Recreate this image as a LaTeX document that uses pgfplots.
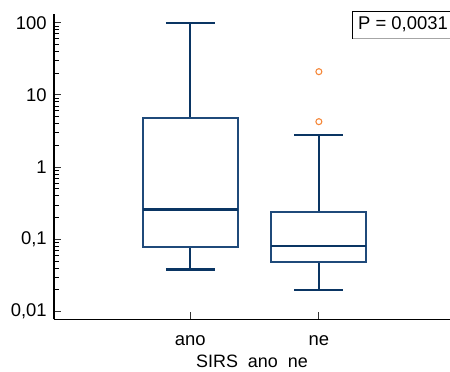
\documentclass[border=0pt]{standalone}
\usepackage{fontspec}
\setmainfont{Liberation Sans}
\usepackage{pgfplots}
\pgfplotsset{compat=1.18}
\usepgfplotslibrary{statistics}
\definecolor{boxblue}{HTML}{1F4A7A}
\definecolor{whiskblue}{HTML}{0A3563}
\definecolor{outorange}{HTML}{F5883A}
\begin{document}
\fontsize{18.5}{21}\selectfont
\begin{tikzpicture}
\begin{axis}[
  scale only axis,
  width=396bp, height=305bp,
  ymode=log,
  ymin=0.00786, ymax=130.7,
  xmin=-0.06, xmax=3.02,
  axis x line*=bottom,
  axis y line*=left,
  axis line style={black, line width=1.4pt},
  xtick={1,2}, xticklabels={ano,ne},
  ytick={0.01,0.1,1,10,100},
  yticklabels={{0,01},{0,1},1,10,100},
  minor ytick={},
  extra y ticks={0.02,0.03,0.04,0.05,0.06,0.07,0.08,0.09,
    0.2,0.3,0.4,0.5,0.6,0.7,0.8,0.9,2,3,4,5,6,7,8,9,
    20,30,40,50,60,70,80,90},
  extra y tick labels={},
  extra y tick style={major tick length=5bp, tick align=inside,
    tick style={black, line width=1pt}},
  /pgf/number format/assume math mode=true,
  tick align=inside,
  major tick length=7bp,
  tick style={black!80, line width=1pt},
  xtick style={line width=0.8pt},
  every tick label/.append style={font=\fontsize{18.5}{21}\selectfont},
  xticklabel style={yshift=-10bp},
  yticklabel style={xshift=-1bp},
  xlabel={SIRS\ \ ano\ \ ne},
  xlabel style={font=\fontsize{18}{21}\selectfont, yshift=3bp},
  boxplot/draw direction=y,
  clip=false,
]
\addplot+[boxplot prepared={
    draw position=1, lower whisker=0.0384, lower quartile=0.079,
    median=0.26, upper quartile=4.85, upper whisker=100,
    box extend=0.74, whisker extend=0.38},
  draw=boxblue, line width=2pt, solid,
  boxplot/every box/.style={draw=boxblue, line width=2pt},
  boxplot/every whisker/.style={draw=whiskblue, line width=2.2pt},
  boxplot/every median/.style={draw=whiskblue, line width=2.2pt},
  mark=none]
  coordinates {};
\addplot+[boxplot prepared={
    draw position=2, lower whisker=0.0201, lower quartile=0.0485,
    median=0.0816, upper quartile=0.243, upper whisker=2.8,
    box extend=0.74, whisker extend=0.38},
  draw=boxblue, line width=2pt, solid,
  boxplot/every box/.style={draw=boxblue, line width=2pt},
  boxplot/every whisker/.style={draw=whiskblue, line width=2.2pt},
  boxplot/every median/.style={draw=whiskblue, line width=2.2pt},
  mark=o, mark size=3bp, mark options={draw=outorange, line width=1.1pt, solid}]
  table[row sep=\\, y index=0] {21\\ 4.27\\};
\end{axis}
\draw[line width=0.9pt, black] (298.3bp,281bp) rectangle (397bp,308.3bp);
\draw[line width=1pt, gray!70] (298.8bp,280.6bp) -- (397bp,280.6bp);
\node[anchor=west, inner sep=0pt] at (304bp,294.8bp) {P = 0,0031};
\pgfresetboundingbox
\path (-54bp,-52.7bp) rectangle (396bp,319.3bp);
\end{tikzpicture}
\end{document}
